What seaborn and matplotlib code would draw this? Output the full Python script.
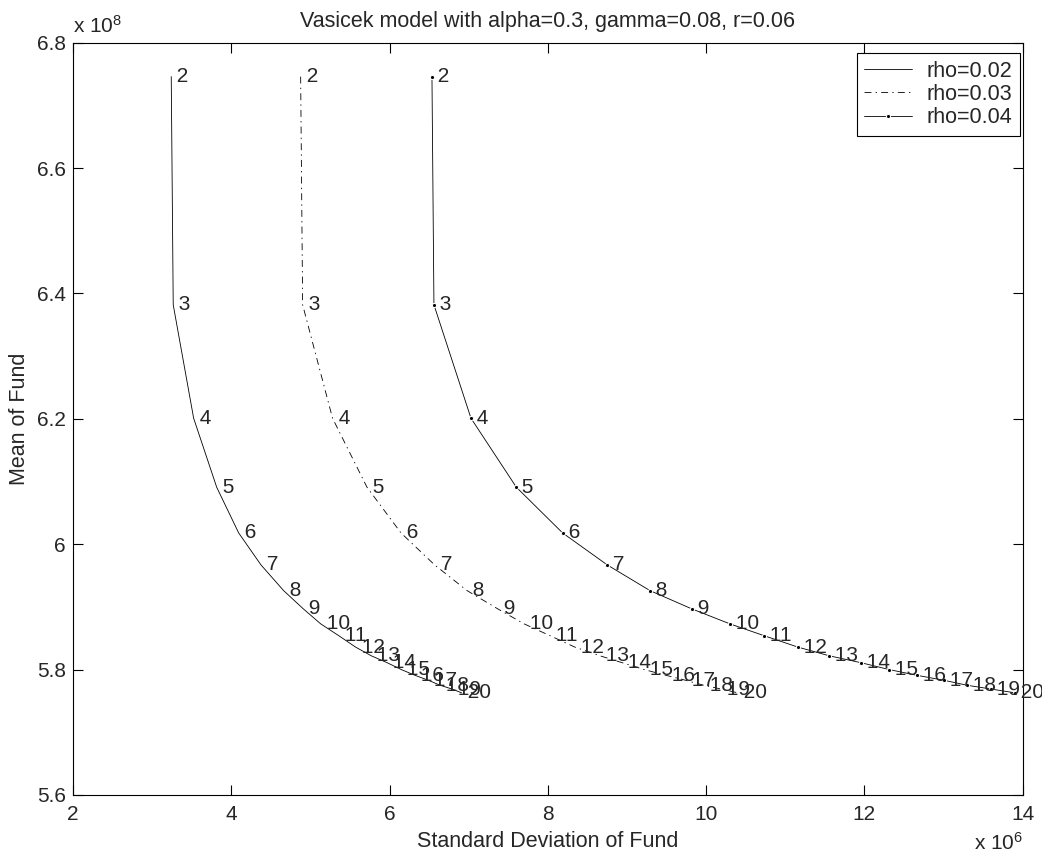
import matplotlib
matplotlib.use("Agg")
import matplotlib.pyplot as plt
import seaborn as sns

# period labels written next to each point
periods = list(range(2, 21))

# mean of fund, units of 1e8 (same for the three rho values)
fund_mean = [6.746, 6.382, 6.201, 6.091, 6.018, 5.967, 5.926, 5.897, 5.873, 5.854,
             5.836, 5.822, 5.811, 5.800, 5.791, 5.783, 5.775, 5.769, 5.763]

# standard deviation of fund, units of 1e6
std_rho02 = [3.242, 3.267, 3.525, 3.816, 4.094, 4.376, 4.662, 4.910, 5.130, 5.360,
             5.570, 5.770, 5.970, 6.150, 6.320, 6.490, 6.640, 6.790, 6.910]
std_rho03 = [4.877, 4.902, 5.280, 5.715, 6.145, 6.570, 6.980, 7.366, 7.700, 8.030,
             8.340, 8.660, 8.940, 9.220, 9.490, 9.740, 9.970, 10.19, 10.40]
std_rho04 = [6.536, 6.561, 7.029, 7.602, 8.187, 8.751, 9.291, 9.817, 10.30, 10.735,
             11.157, 11.557, 11.957, 12.315, 12.66, 13.005, 13.30, 13.60, 13.90]

series_names = ["rho=0.02", "rho=0.03", "rho=0.04"]

x_ticks = [2, 4, 6, 8, 10, 12, 14]
y_ticks = [5.6, 5.8, 6.0, 6.2, 6.4, 6.6, 6.8]
y_tick_labels = ["5.6", "5.8", "6", "6.2", "6.4", "6.6", "6.8"]

sns.set_theme(style="white", rc={
    "xtick.direction": "in", "ytick.direction": "in",
    "xtick.top": True, "ytick.right": True,
    "xtick.bottom": True, "ytick.left": True,
    "axes.edgecolor": "black", "axes.linewidth": 0.8,
    "lines.scale_dashes": False,
})
plt.rcParams["font.family"] = ["Liberation Sans", "DejaVu Sans"]
plt.rcParams["mathtext.default"] = "regular"

FS = 15.5
TICK_FS = 15

fig = plt.figure(figsize=(10.42, 8.6), dpi=100)
ax = fig.add_axes([0.070, 0.0756, 0.9115, 0.8747])

styles = [
    dict(linestyle="-", marker=None),
    dict(linestyle=(0, (5, 3, 1, 3)), marker=None),
    dict(linestyle="-", marker=".", markersize=6),
]
for xs, name, st in zip([std_rho02, std_rho03, std_rho04], series_names, styles):
    sns.lineplot(x=xs, y=fund_mean, sort=False, estimator=None, ax=ax,
                 color="black", linewidth=0.6, label=name, **st)
    # period number next to every point
    for xv, yv, p in zip(xs, fund_mean, periods):
        ax.text(xv, yv, " " + str(p), ha="left", va="center", fontsize=TICK_FS)

ax.set_xlim(2, 14)
ax.set_ylim(5.6, 6.8)
ax.set_xticks(x_ticks)
ax.set_xticklabels([str(t) for t in x_ticks])
ax.set_yticks(y_ticks)
ax.set_yticklabels(y_tick_labels)
ax.tick_params(axis="both", labelsize=TICK_FS, length=7, width=0.8, color="black")
ax.tick_params(axis="x", pad=7)
ax.tick_params(axis="y", pad=5)

ax.set_title("Vasicek model with alpha=0.3, gamma=0.08, r=0.06", fontsize=FS, pad=11)
ax.set_xlabel("Standard Deviation of Fund", fontsize=FS)
ax.set_ylabel("Mean of Fund", fontsize=FS)
ax.xaxis.set_label_coords(0.5, -0.062)
ax.xaxis.label.set_va("center")
ax.yaxis.set_label_coords(-0.056, 0.5)
ax.yaxis.label.set_va("center")

# matlab style exponent labels
ax.text(0.0, 1.008, "x 10$^{8}$", transform=ax.transAxes, ha="left", va="bottom", fontsize=TICK_FS)
ax.text(1.0, -0.064, "x 10$^{6}$", transform=ax.transAxes, ha="right", va="center", fontsize=TICK_FS)

leg = ax.legend(loc="upper right", bbox_to_anchor=(0.997, 0.986), borderaxespad=0,
                fontsize=FS, frameon=True, fancybox=False, edgecolor="black",
                framealpha=1, handlelength=2.2, handletextpad=0.7, borderpad=0.35,
                labelspacing=0.1)
leg.get_frame().set_linewidth(0.8)

fig.savefig("out.png", dpi=100, facecolor="white")
